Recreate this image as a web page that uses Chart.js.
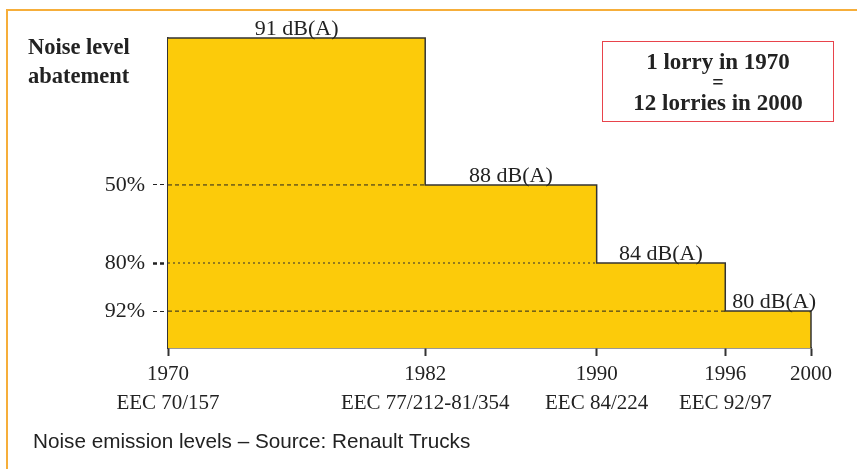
<!DOCTYPE html>
<html>
<head>
<meta charset="utf-8">
<script src="https://cdn.jsdelivr.net/npm/chart.js@4.4.1/dist/chart.umd.min.js"></script>
<style>
  html, body { margin: 0; padding: 0; background: #fff; }
  canvas { display: block; }
</style>
</head>
<body>
<canvas id="noise-chart" width="857" height="469"></canvas>
<script>
// step edges (years) and relative noise level of each step (1970 = 100)
const stepStart = [1970, 1982, 1990, 1996];
const stepEnd = [1982, 1990, 1996, 2000];
const levels = [100, 52.6, 27.4, 11.9];
const dbLabels = ['91 dB(A)', '88 dB(A)', '84 dB(A)', '80 dB(A)'];
const abatementLabels = ['50%', '80%', '92%'];
const yearTicks = [1970, 1982, 1990, 1996, 2000];
const directiveLabels = ['EEC 70/157', 'EEC 77/212-81/354', 'EEC 84/224', 'EEC 92/97', ''];

const yellow = 'rgb(252, 203, 10)';
const ink = '#222';

const stepPoints = stepStart.map((x, i) => ({ x: x, y: levels[i] }));
stepPoints.push({ x: stepEnd[stepEnd.length - 1], y: levels[levels.length - 1] });

// dashed guide lines from the axis to where each level starts
const guideSets = abatementLabels.map((lab, i) => ({
    data: [{ x: stepStart[0], y: levels[i + 1] }, { x: stepStart[i + 1], y: levels[i + 1] }],
    borderColor: i === 1 ? 'rgba(90, 80, 40, 0.65)' : ink,
    borderWidth: i === 1 ? 2 : 1,
    borderDash: i === 1 ? [2, 3] : [4, 3],
    pointRadius: 0,
    fill: false,
    order: 1
}));

const decorPlugin = {
    id: 'decor',
    beforeDraw(chart) {
        const ctx = chart.ctx;
        ctx.save();
        ctx.fillStyle = '#fff';
        ctx.fillRect(0, 0, chart.width, chart.height);
        ctx.restore();
    },
    afterDatasetsDraw(chart) {
        const ctx = chart.ctx;
        const xs = chart.scales.x, ys = chart.scales.y;
        ctx.save();
        // right edge of last step
        ctx.strokeStyle = '#333';
        ctx.lineWidth = 1.5;
        ctx.beginPath();
        const xr = xs.getPixelForValue(stepEnd[stepEnd.length - 1]);
        ctx.moveTo(xr, ys.getPixelForValue(levels[levels.length - 1]));
        ctx.lineTo(xr, ys.getPixelForValue(0));
        ctx.stroke();

        // dB labels above each step, kept clear of the step's left edge
        ctx.fillStyle = ink;
        ctx.font = '22px "Liberation Serif"';
        ctx.textAlign = 'center';
        ctx.textBaseline = 'alphabetic';
        dbLabels.forEach((t, i) => {
            const x0 = xs.getPixelForValue(stepStart[i]);
            const x1 = xs.getPixelForValue(stepEnd[i]);
            const half = ctx.measureText(t).width / 2;
            const cx = Math.max((x0 + x1) / 2, x0 + half + 7);
            ctx.fillText(t, cx, ys.getPixelForValue(levels[i]) - 3);
        });
        ctx.restore();
    },
    afterDraw(chart) {
        const ctx = chart.ctx;
        ctx.save();
        // orange frame
        ctx.strokeStyle = '#F6AE3A';
        ctx.lineWidth = 2;
        ctx.beginPath();
        ctx.moveTo(chart.width, 10);
        ctx.lineTo(7, 10);
        ctx.lineTo(7, chart.height);
        ctx.stroke();

        // axis title
        ctx.fillStyle = ink;
        ctx.font = 'bold 22.5px "Liberation Serif"';
        ctx.textAlign = 'left';
        ctx.textBaseline = 'alphabetic';
        ctx.fillText('Noise level', 28, 54);
        ctx.fillText('abatement', 28, 83);

        // comparison box
        ctx.strokeStyle = '#E8434B';
        ctx.lineWidth = 1;
        ctx.strokeRect(602.5, 41.5, 231, 80);
        ctx.textAlign = 'center';
        ctx.font = 'bold 23px "Liberation Serif"';
        ctx.fillText('1 lorry in 1970', 718, 69);
        ctx.font = 'bold 20px "Liberation Serif"';
        ctx.fillText('=', 718, 89);
        ctx.font = 'bold 23px "Liberation Serif"';
        ctx.fillText('12 lorries in 2000', 718, 110);

        // caption
        ctx.textAlign = 'left';
        ctx.font = '20.7px "Liberation Sans"';
        ctx.fillText('Noise emission levels \u2013 Source: Renault Trucks', 33, 448);
        ctx.restore();
    }
};

new Chart(document.getElementById('noise-chart'), {
    type: 'line',
    data: {
        datasets: [{
            data: stepPoints,
            stepped: 'before',
            fill: 'origin',
            backgroundColor: yellow,
            borderColor: '#333',
            borderWidth: 1.5,
            pointRadius: 0,
            clip: 4,
            order: 2
        }].concat(guideSets)
    },
    options: {
        responsive: false,
        animation: false,
        devicePixelRatio: 1,
        layout: { padding: { top: 38, right: 46, left: 0, bottom: 0 } },
        plugins: {
            legend: { display: false },
            tooltip: { enabled: false }
        },
        scales: {
            x: {
                type: 'linear',
                min: 1970,
                max: 2000,
                afterBuildTicks: axis => { axis.ticks = yearTicks.map(v => ({ value: v })); },
                afterFit: axis => { axis.height = 121; },
                grid: {
                    drawOnChartArea: false,
                    tickLength: 8,
                    tickColor: '#333',
                    tickWidth: 2
                },
                border: { color: '#333', width: 1.5 },
                ticks: {
                    autoSkip: false,
                    maxRotation: 0,
                    padding: 4,
                    color: ink,
                    font: { family: 'Liberation Serif', size: 21, lineHeight: 1.38 },
                    callback: (value, index) => directiveLabels[index]
                        ? [String(value), directiveLabels[index]]
                        : String(value)
                }
            },
            y: {
                min: 0,
                max: 100,
                afterBuildTicks: axis => { axis.ticks = levels.slice(1).map(v => ({ value: v })); },
                afterFit: axis => { axis.width = 168; },
                grid: {
                    drawOnChartArea: false,
                    tickLength: 15,
                    tickColor: ink,
                    tickWidth: ctx => ctx.index === 1 ? 2.5 : 1,
                    tickBorderDash: [4, 3]
                },
                border: { color: '#333', width: 1.5 },
                ticks: {
                    padding: 8,
                    color: ink,
                    font: { family: 'Liberation Serif', size: 22 },
                    callback: (value, index) => abatementLabels[index]
                }
            }
        }
    },
    plugins: [decorPlugin]
});
</script>
</body>
</html>
